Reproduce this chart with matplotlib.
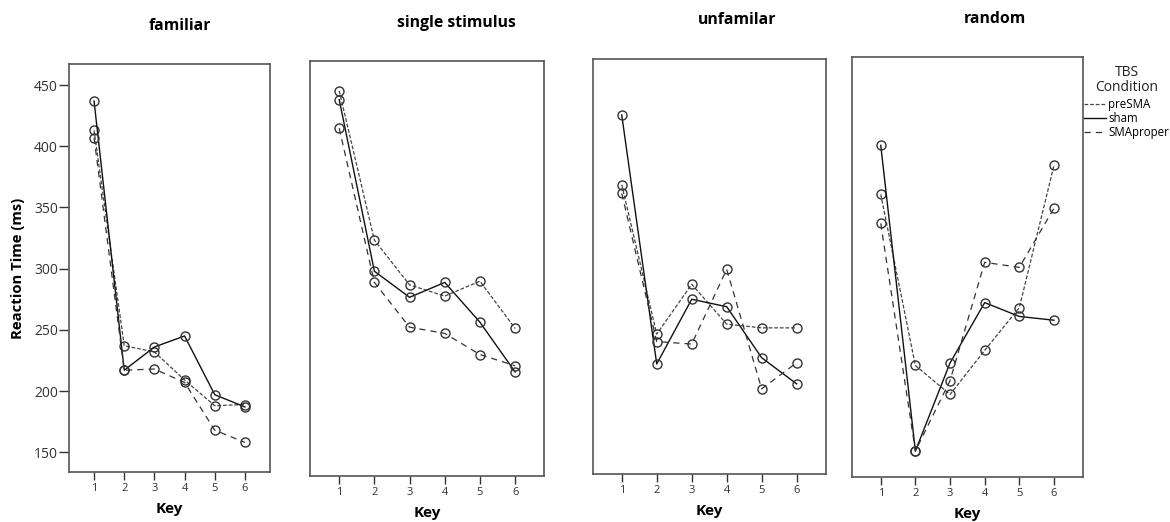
import matplotlib
matplotlib.use("Agg")
import matplotlib.pyplot as plt

plt.rcParams['font.family'] = ['Open Sans', 'DejaVu Sans']

W, H = 1170, 522

# data: mean reaction time (ms) per key, one list per condition and block
keys = [1, 2, 3, 4, 5, 6]
panel_titles = ["familiar", "single stimulus", "unfamilar", "random"]
conditions = ["preSMA", "sham", "SMAproper"]

presma = [
    [413, 237, 232, 209, 188, 189],
    [443, 323, 287, 278, 290, 252],
    [366, 246, 286, 254, 251, 251],
    [358, 222, 199, 234, 268, 381],
]
sham = [
    [437, 217, 236, 245, 197, 187],
    [436, 298, 277, 289, 257, 217],
    [422, 222, 274, 268, 227, 206],
    [397, 154, 224, 272, 261, 258],
]
smaproper = [
    [407, 217, 218, 207, 168, 158],
    [413, 289, 253, 248, 231, 222],
    [359, 240, 238, 298, 202, 223],
    [335, 154, 210, 304, 300, 347],
]
y_ticks = [150, 200, 250, 300, 350, 400, 450]

# panel boxes in pixels: left, right, top, bottom
boxes = [(69, 270, 64.3, 472.3), (310, 544.3, 61, 475.7),
         (592.7, 825.7, 59, 474), (852, 1082.7, 57.3, 476.7)]
title_pos = [(180, 26), (456, 23), (737, 20), (995, 19)]

styles = {
    "preSMA": dict(color="#444444", ls=(0, (3, 1.5)), lw=0.9),
    "sham": dict(color="#111111", ls="-", lw=1.0),
    "SMAproper": dict(color="#333333", ls=(0, (5, 4)), lw=0.9),
}

fig = plt.figure(figsize=(W / 100, H / 100), dpi=100)

handles = []
for i, (l, r, t, b) in enumerate(boxes):
    ax = fig.add_axes([l / W, 1 - b / H, (r - l) / W, (b - t) / H])
    series = {"preSMA": presma[i], "sham": sham[i], "SMAproper": smaproper[i]}
    for name in conditions:
        ax.plot(keys, series[name], marker="o", ms=6.5, mfc="none",
                mec="#333333", mew=1.0, **styles[name])
        if i == 0:
            handles.append(ax.plot([], [], **styles[name])[0])
    ax.set_xlim(0.17, 6.83)
    ax.set_ylim(133.6, 467)
    ax.set_xticks(keys)
    ax.tick_params(axis="x", direction="out", length=6, width=1,
                   labelsize=8, colors="#333333", pad=2)
    if i == 0:
        ax.set_yticks(y_ticks)
        ax.tick_params(axis="y", direction="out", length=7, width=1,
                       labelsize=10, colors="#333333", pad=1)
        ax.set_ylabel("Reaction Time (ms)", fontsize=10.7, fontweight="bold")
        ax.yaxis.label.set_va("center")
        ax.yaxis.set_label_coords(-51 / (r - l), 0.5)
    else:
        ax.set_yticks([])
    for sp in ax.spines.values():
        sp.set_color("#555555")
        sp.set_linewidth(1.2)
    ax.set_xlabel("Key", fontsize=11, fontweight="bold")
    ax.xaxis.label.set_va("center")
    ax.xaxis.set_label_coords(0.5, -37 / (b - t))
    tx, ty = title_pos[i]
    fig.text(tx / W, 1 - ty / H, panel_titles[i], ha="center", va="center",
             fontsize=11.3, fontweight="bold")

# legend title and entries
fig.text(1127 / W, 1 - 80 / H, "TBS\nCondition", ha="center", va="center",
         multialignment="center", linespacing=1.0, fontsize=10,
         color="#222222")
fig.legend(handles, conditions, loc="upper left",
           bbox_to_anchor=(1084 / W, 1 - 98 / H), frameon=False,
           fontsize=8.3, handlelength=1.9, handletextpad=0.2,
           labelspacing=0.1, borderaxespad=0, borderpad=0)

fig.savefig("out.png", dpi=100)
